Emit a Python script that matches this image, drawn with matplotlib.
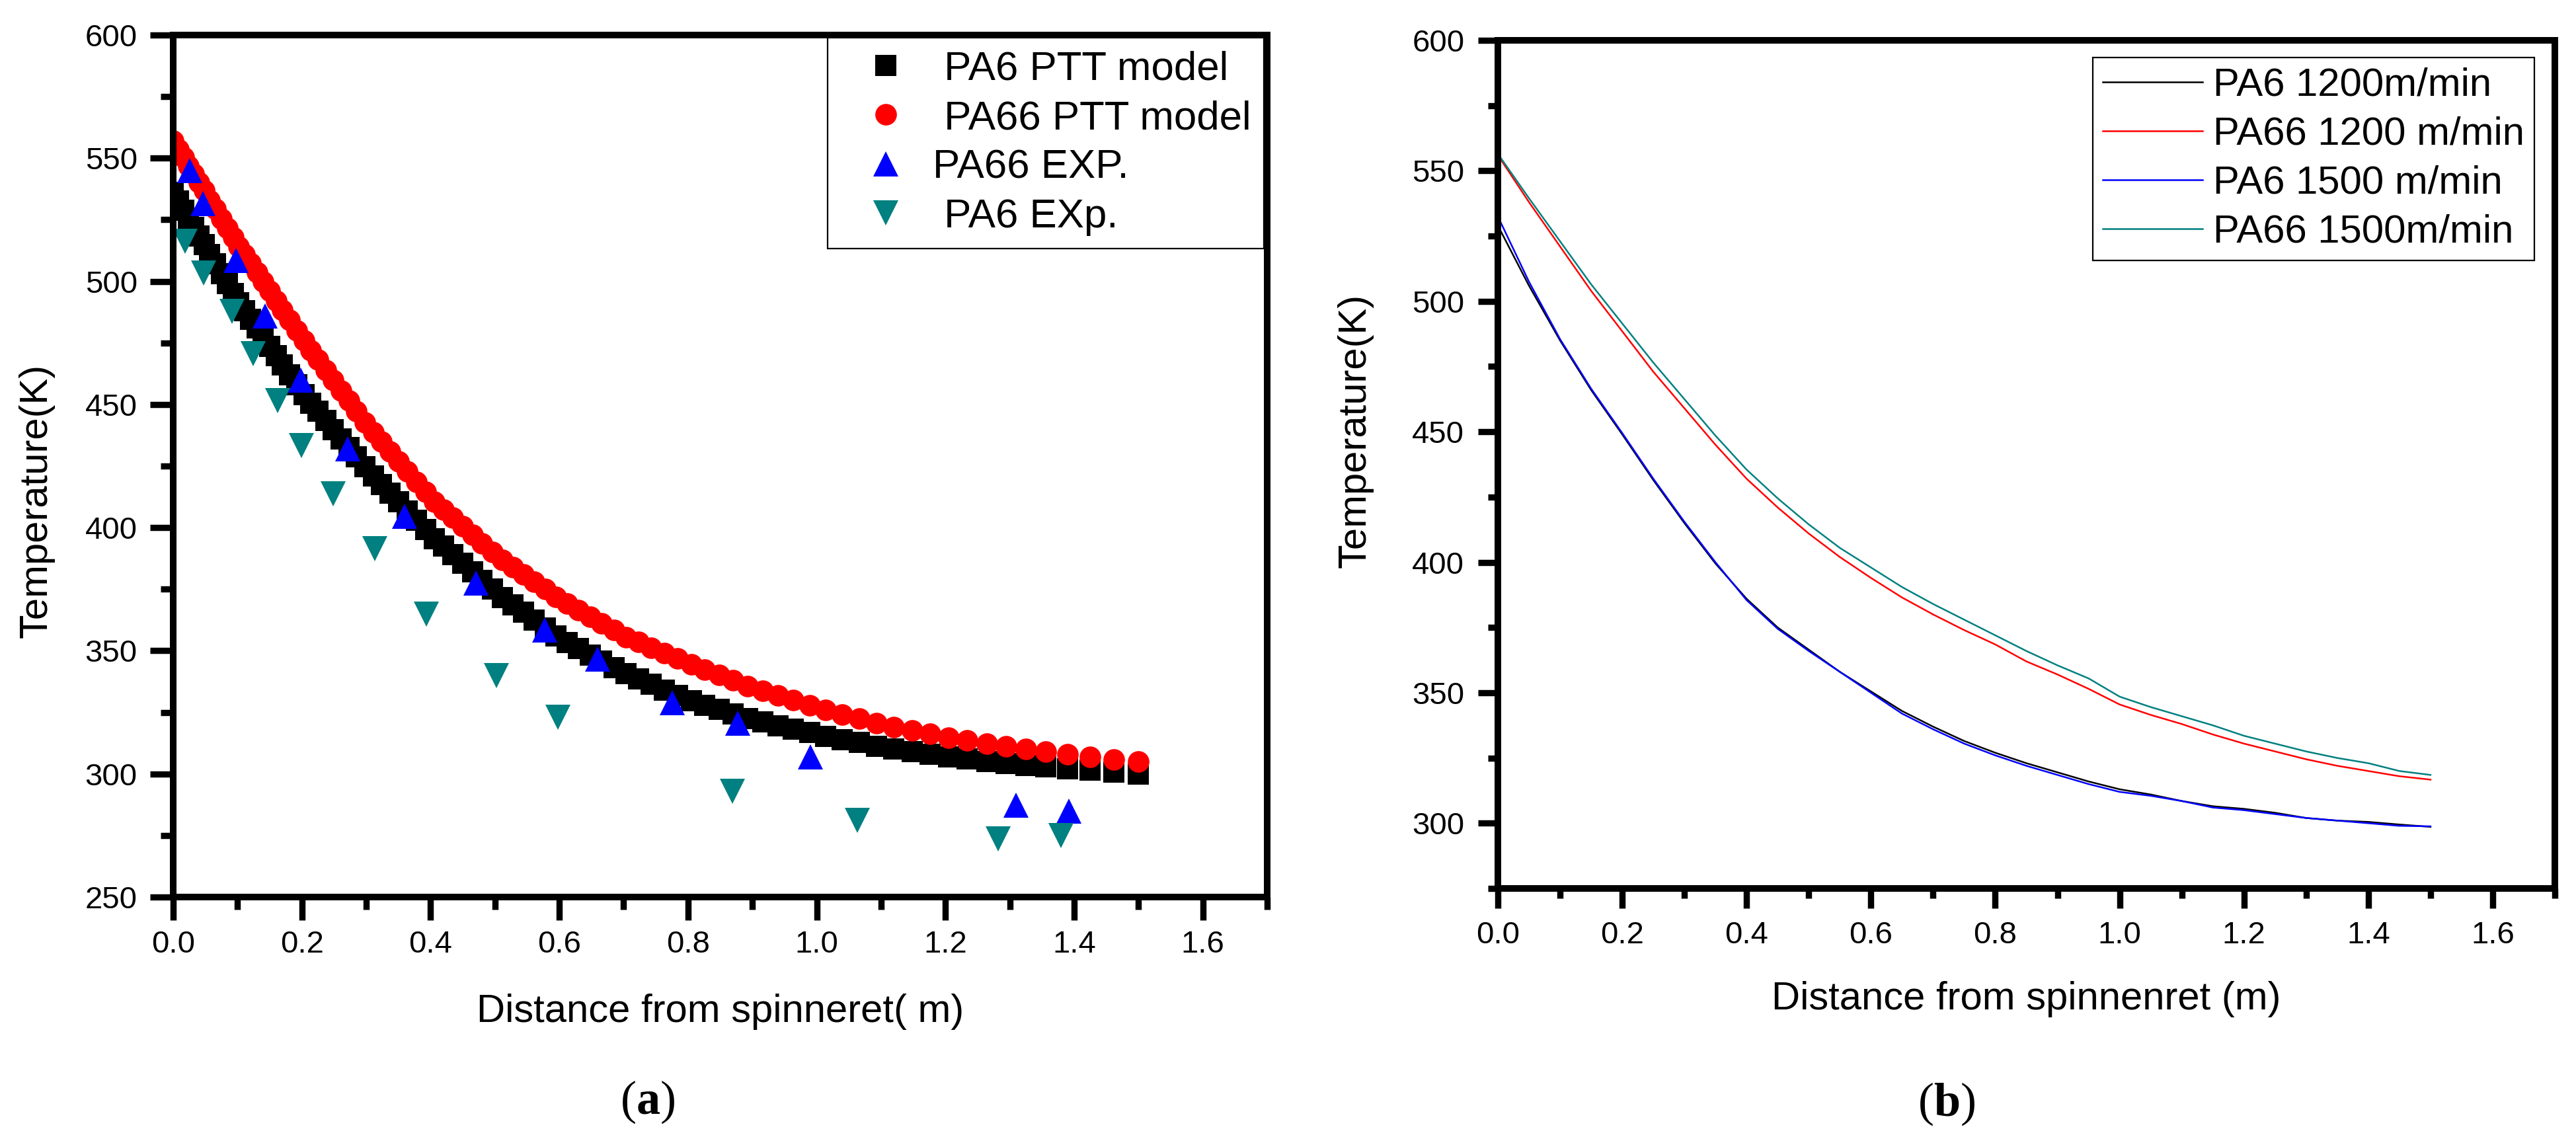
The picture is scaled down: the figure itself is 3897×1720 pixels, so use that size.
import matplotlib
matplotlib.use("Agg")
import matplotlib.pyplot as plt
from matplotlib.ticker import MultipleLocator

plt.rcParams['font.family'] = ['Liberation Sans', 'DejaVu Sans']
plt.rcParams['mathtext.fontset'] = 'custom'
plt.rcParams['mathtext.rm'] = 'Liberation Serif'
plt.rcParams['mathtext.bf'] = 'Liberation Serif:bold'

# ---------------- data: panel (a) ----------------
model_x = [0.000, 0.008, 0.016, 0.024, 0.032, 0.040, 0.048, 0.057, 0.066, 0.075,
           0.084, 0.093, 0.102, 0.111, 0.120, 0.130, 0.140, 0.150, 0.160, 0.170,
           0.181, 0.192, 0.203, 0.214, 0.225, 0.237, 0.249, 0.261, 0.273, 0.285,
           0.298, 0.311, 0.324, 0.337, 0.350, 0.364, 0.378, 0.392, 0.406, 0.420,
           0.435, 0.450, 0.465, 0.480, 0.496, 0.512, 0.528, 0.544, 0.561, 0.578,
           0.595, 0.612, 0.630, 0.648, 0.666, 0.685, 0.704, 0.723, 0.743, 0.763,
           0.784, 0.805, 0.826, 0.848, 0.870, 0.893, 0.916, 0.940, 0.964, 0.989,
           1.014, 1.040, 1.066, 1.093, 1.120, 1.148, 1.176, 1.205, 1.234, 1.264,
           1.294, 1.325, 1.356, 1.390, 1.425, 1.462, 1.500]
pa6_model = [536, 532.5, 529, 525.5, 522, 518.5, 515, 511, 507, 503,
             499, 495, 491.3, 488, 484.6, 481, 477.3, 473.6, 469.9, 466.2,
             462, 458, 454, 450.6, 447.2, 443.5, 439.8, 436, 432.4, 428.7,
             424.6, 421, 417.5, 414, 410.5, 406.7, 403, 399.2, 395.6, 392.4,
             389, 385.5, 382, 378.6, 375, 371.7, 368.7, 365.6, 362.4, 359.2,
             356, 353.3, 350.8, 348.3, 345.8, 343.1, 340.6, 338.5, 336.3, 334.1,
             331.8, 329.6, 327.9, 326.2, 324.4, 322.6, 321, 319.6, 318.2, 316.7,
             315.3, 314, 312.7, 311.3, 310.2, 309.1, 308, 306.9, 306, 305.1,
             304.2, 303.5, 302.9, 302.2, 301.5, 300.8, 300]
pa66_model = [557, 553.6, 550.3, 546.9, 543.6, 540.2, 536.8, 533, 529.3, 525.5,
              521.7, 518, 514.2, 510.8, 507.4, 503.6, 499.8, 496, 492.2, 488.4,
              484.2, 480, 476, 472.1, 468.3, 464, 459.9, 455.7, 451.5, 447.3,
              442.8, 438.8, 434.9, 431, 427, 422.8, 418.6, 414.5, 410.6, 407.4,
              404, 400.5, 397.1, 393.6, 390, 386.9, 384, 381.1, 378, 375,
              371.9, 369.3, 366.6, 363.9, 361.2, 358.4, 355.6, 353.5, 351.3, 349.1,
              346.8, 344.5, 342.4, 340.2, 338, 335.7, 333.7, 331.8, 329.9, 327.9,
              326, 324.2, 322.4, 320.5, 319, 317.6, 316.2, 314.8, 313.6, 312.4,
              311.2, 310.1, 309, 307.9, 306.9, 305.9, 305]

pa66_exp_x = [0.026, 0.046, 0.098, 0.143, 0.198, 0.271, 0.360, 0.470, 0.577,
              0.659, 0.776, 0.877, 0.990, 1.310, 1.392]
pa66_exp_y = [545.1, 531.6, 508.4, 485.8, 459.9, 432.1, 404.5, 377.5, 358.4,
              346.6, 329.0, 320.5, 307.0, 287.3, 285.0]

pa6_exp_x = [0.019, 0.047, 0.091, 0.124, 0.162, 0.199, 0.249, 0.313, 0.393,
             0.502, 0.598, 0.869, 1.063, 1.282, 1.380]
pa6_exp_y = [516.3, 503.4, 487.8, 470.5, 451.7, 433.2, 413.6, 391.5, 364.8,
             339.9, 323.1, 292.9, 281.1, 273.5, 275.0]

labels_a = [" PA6 PTT model", " PA66 PTT model", "PA66 EXP.", " PA6 EXp."]

# ---------------- data: panel (b) ----------------
line_x = [0.00, 0.05, 0.10, 0.15, 0.20, 0.25, 0.30, 0.35, 0.40, 0.45, 0.50,
          0.55, 0.60, 0.65, 0.70, 0.75, 0.80, 0.85, 0.90, 0.95, 1.00,
          1.05, 1.10, 1.15, 1.20, 1.25, 1.30, 1.35, 1.40, 1.45, 1.50]
pa6_1200 = [529, 506, 485, 466, 449, 431.5, 415, 399.5, 386, 375, 366.5,
            358, 350.5, 343, 337, 331.5, 327, 323, 319.5, 316, 313,
            311, 308.5, 306.5, 305.5, 304, 302, 301, 300.5, 299.5, 298.6]
pa66_1200 = [556, 538, 521, 504, 488.5, 473, 459, 445, 432, 421, 411,
             402, 394, 386.5, 380, 374, 368.5, 362, 357, 351.5, 345.5,
             341.5, 338, 334, 330.5, 327.5, 324.5, 322, 320, 318, 316.7]
pa6_1500 = [532.5, 507.5, 485.5, 466.5, 449.5, 432, 415.5, 400, 385.5, 374.5, 366,
            358, 350, 342, 336, 330.5, 326, 322, 318.5, 315, 312,
            310.5, 308.5, 306, 305, 303.5, 302, 301, 300, 299, 298.8]
pa66_1500 = [556.5, 539.5, 523, 506.5, 491.5, 476.5, 462.5, 448.5, 435.5, 424.5, 414.5,
             405.5, 398, 390.5, 384, 378, 372, 366, 360.5, 355.5, 348.5,
             344.5, 341, 337.5, 333.5, 330.5, 327.5, 325, 323, 320, 318.5]
labels_b = ["PA6 1200m/min", "PA66 1200 m/min", "PA6 1500 m/min", "PA66 1500m/min"]

# ---------------- figure ----------------
W, H, DPI = 3898, 1720, 100
fig = plt.figure(figsize=(W / DPI, H / DPI), dpi=DPI)


def rect(l, r, t, b):
    return [l / W, 1 - b / H, (r - l) / W, (b - t) / H]


axa = fig.add_axes(rect(262, 1917, 53, 1357))
axb = fig.add_axes(rect(2266, 3865, 61, 1344))

# panel a
axa.plot(model_x, pa6_model, ls='none', marker='s', ms=23, mew=0, color='black', label=labels_a[0])
axa.plot(model_x, pa66_model, ls='none', marker='o', ms=23.5, mew=0, color='#ff0000', label=labels_a[1])
axa.plot(pa66_exp_x, pa66_exp_y, ls='none', marker='^', ms=27, mew=0, color='#0000ff', label=labels_a[2])
axa.plot(pa6_exp_x, pa6_exp_y, ls='none', marker='v', ms=27, mew=0, color='#008080', label=labels_a[3])
axa.set_xlim(0, 1.7)
axa.set_ylim(250, 600)

# panel b
axb.plot(line_x, pa6_1200, color='black', lw=1.8, label=labels_b[0])
axb.plot(line_x, pa66_1200, color='#ff0000', lw=1.8, label=labels_b[1])
axb.plot(line_x, pa6_1500, color='#0000ff', lw=1.8, label=labels_b[2])
axb.plot(line_x, pa66_1500, color='#008080', lw=1.8, label=labels_b[3])
axb.set_xlim(0, 1.7)
axb.set_ylim(275, 600)

for ax, majl, minl, padx, pady in [(axa, 25, 14, 11, 14), (axb, 21.5, 11, 14, 15)]:
    ax.xaxis.set_major_locator(MultipleLocator(0.2))
    ax.xaxis.set_minor_locator(MultipleLocator(0.1))
    ax.yaxis.set_major_locator(MultipleLocator(50))
    ax.yaxis.set_minor_locator(MultipleLocator(25))
    ax.xaxis.set_major_formatter(matplotlib.ticker.FormatStrFormatter('%.1f'))
    for s in ax.spines.values():
        s.set_linewidth(7.2)
        s.set_capstyle('projecting')
    ax.tick_params(which='major', direction='out', length=majl, width=6.8, labelsize=34,
                   top=False, right=False)
    ax.tick_params(which='minor', direction='out', length=minl, width=6.8,
                   top=False, right=False)
    ax.tick_params(axis='x', which='major', pad=padx)
    ax.tick_params(axis='y', which='major', pad=pady)

axa.set_xlabel("Distance from spinneret( m)", fontsize=43, va='baseline')
axa.xaxis.set_label_coords(0.5, (1357 - 1546) / 1304)
axa.set_ylabel("Temperature(K)", fontsize=43, va='center')
axa.yaxis.set_label_coords((55 - 262) / 1655, 0.46)

axb.set_xlabel("Distance from spinnenret (m)", fontsize=43, va='baseline')
axb.xaxis.set_label_coords(0.5, (1344 - 1527) / 1283)
axb.set_ylabel("Temperature(K)", fontsize=43, va='center')
axb.yaxis.set_label_coords((2050 - 2266) / 1599, 0.54)

lega = axa.legend(loc='upper right', bbox_to_anchor=((1912 - 262) / 1655, (1357 - 57) / 1304),
                  borderaxespad=0, fontsize=44.5, handlelength=2.2, handletextpad=0.04,
                  borderpad=0.32, labelspacing=0.28, numpoints=1, fancybox=False,
                  framealpha=1, edgecolor='black')
lega.get_frame().set_linewidth(1.6)

legb = axb.legend(loc='upper right', bbox_to_anchor=((3834 - 2266) / 1599, (1344 - 87) / 1283),
                  borderaxespad=0, fontsize=43, handlelength=2.53, handletextpad=0.28,
                  borderpad=0.245, labelspacing=0.32, fancybox=False,
                  framealpha=1, edgecolor='black')
legb.get_frame().set_linewidth(1.6)
for ln in legb.get_lines():
    ln.set_linewidth(1.8)

fig.text(980 / W, 1 - 1685 / H, r"($\mathbf{a}$)", fontsize=52, family='Liberation Serif',
         ha='center', va='baseline')
fig.text(2945 / W, 1 - 1688 / H, r"($\mathbf{b}$)", fontsize=52, family='Liberation Serif',
         ha='center', va='baseline')

fig.savefig("out.png", dpi=DPI, facecolor='white')
